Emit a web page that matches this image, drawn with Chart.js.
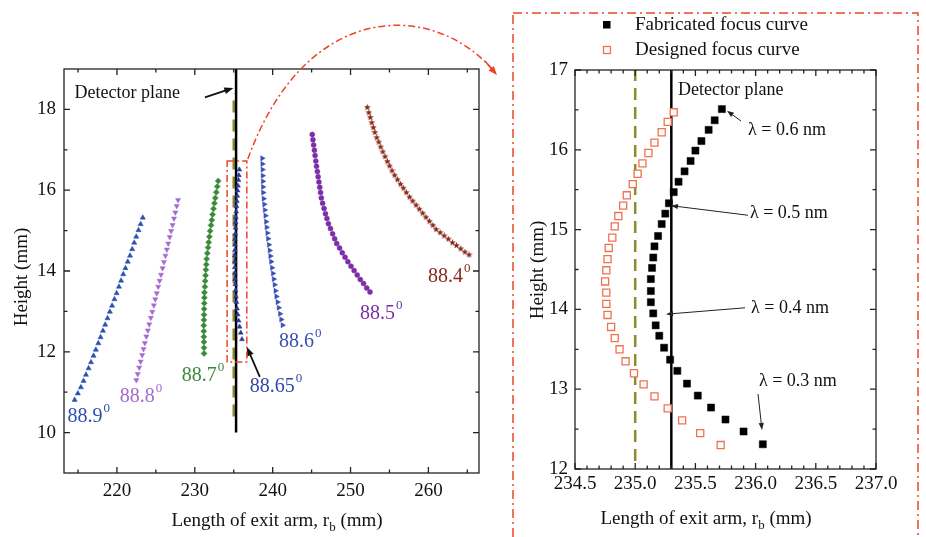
<!DOCTYPE html>
<html>
<head>
<meta charset="utf-8">
<script src="https://cdn.jsdelivr.net/npm/chart.js@4.4.1/dist/chart.umd.min.js"></script>
<style>
  body { margin: 0; background: #fff; width: 926px; height: 537px; overflow: hidden; position: relative; }
  #left { position: absolute; left: 0; top: 0; }
  #right { position: absolute; left: 490px; top: 0; }
</style>
</head>
<body>
<canvas id="left" width="926" height="537"></canvas>
<canvas id="right" width="436" height="537"></canvas>
<script>
// ---- tick values ----
const leftXTicks = [220, 230, 240, 250, 260];
const leftXMinor = [215, 225, 235, 245, 255, 265];
const leftYTicks = [10, 12, 14, 16, 18];
const leftYMinor = [11, 13, 15, 17];
const rightXTicks = [234.5, 235.0, 235.5, 236.0, 236.5, 237.0];
const rightXMinor = [234.6, 234.7, 234.8, 234.9, 235.1, 235.2, 235.3, 235.4, 235.6, 235.7, 235.8, 235.9,
                     236.1, 236.2, 236.3, 236.4, 236.6, 236.7, 236.8, 236.9];
const rightYTicks = [12, 13, 14, 15, 16, 17];
const rightYMinor = [12.5, 13.5, 14.5, 15.5, 16.5];

// ---- focus curves for each incidence angle (left panel) ----
const a889X = [214.57, 214.98, 215.37, 215.71, 216.02, 216.36, 216.67, 216.99, 217.29, 217.61, 217.90, 218.20, 218.49, 218.79, 219.09,
               219.38, 219.68, 219.96, 220.26, 220.53, 220.81, 221.09, 221.39, 221.68, 221.96, 222.22, 222.48, 222.77, 223.04, 223.32];
const a889Y = [10.81, 10.97, 11.12, 11.28, 11.43, 11.59, 11.74, 11.90, 12.05, 12.21, 12.36, 12.52, 12.67, 12.83, 12.99,
               13.14, 13.30, 13.45, 13.61, 13.76, 13.92, 14.07, 14.23, 14.38, 14.54, 14.70, 14.85, 15.01, 15.16, 15.32];

const a888X = [222.49, 222.67, 222.86, 223.04, 223.24, 223.41, 223.58, 223.78, 223.97, 224.15, 224.35, 224.54, 224.74, 224.92, 225.11,
               225.30, 225.48, 225.66, 225.86, 226.04, 226.23, 226.41, 226.59, 226.78, 226.96, 227.14, 227.33, 227.50, 227.68, 227.85];
const a888Y = [11.30, 11.45, 11.61, 11.76, 11.92, 12.07, 12.22, 12.38, 12.53, 12.68, 12.84, 12.99, 13.15, 13.30, 13.45,
               13.61, 13.76, 13.91, 14.07, 14.22, 14.38, 14.53, 14.68, 14.84, 14.99, 15.14, 15.30, 15.45, 15.61, 15.76];

const a887X = [231.19, 231.18, 231.17, 231.16, 231.15, 231.15, 231.17, 231.18, 231.20, 231.21, 231.23, 231.24, 231.29, 231.33, 231.38, 231.42,
               231.47, 231.52, 231.61, 231.70, 231.78, 231.87, 231.97, 232.08, 232.18, 232.29, 232.40, 232.52, 232.63, 232.76, 232.88, 233.00];
const a887Y = [11.96, 12.10, 12.24, 12.37, 12.51, 12.65, 12.79, 12.92, 13.06, 13.20, 13.34, 13.47, 13.61, 13.75, 13.89, 14.03,
               14.16, 14.30, 14.44, 14.58, 14.71, 14.85, 14.99, 15.13, 15.26, 15.40, 15.54, 15.68, 15.81, 15.95, 16.09, 16.23];

const a886X = [241.27, 241.10, 240.94, 240.77, 240.63, 240.48, 240.36, 240.25, 240.14, 240.03, 239.92, 239.80, 239.70, 239.61, 239.51,
               239.41, 239.32, 239.22, 239.15, 239.07, 238.99, 238.92, 238.84, 238.78, 238.76, 238.74, 238.72, 238.70, 238.68, 238.66];
const a886Y = [12.66, 12.80, 12.94, 13.09, 13.23, 13.37, 13.51, 13.66, 13.80, 13.94, 14.08, 14.23, 14.37, 14.51, 14.65,
               14.80, 14.94, 15.08, 15.22, 15.37, 15.51, 15.65, 15.79, 15.94, 16.08, 16.22, 16.36, 16.51, 16.65, 16.79];

const a885X = [245.08, 245.17, 245.26, 245.36, 245.45, 245.54, 245.63, 245.74, 245.84, 245.94, 246.05, 246.15, 246.25, 246.41, 246.60, 246.78, 246.97,
               247.16, 247.43, 247.70, 247.96, 248.23, 248.59, 248.94, 249.30, 249.66, 250.06, 250.46, 250.86, 251.25, 251.67, 252.08, 252.50];
const a885Y = [17.38, 17.25, 17.12, 16.99, 16.86, 16.72, 16.59, 16.46, 16.33, 16.20, 16.07, 15.94, 15.81, 15.68, 15.55, 15.42, 15.30,
               15.17, 15.05, 14.92, 14.80, 14.68, 14.57, 14.45, 14.34, 14.23, 14.12, 14.01, 13.90, 13.79, 13.69, 13.58, 13.48];

const a884X = [252.15, 252.35, 252.54, 252.73, 252.93, 253.12, 253.36, 253.62, 253.88, 254.14, 254.43, 254.73, 255.02, 255.33, 255.67, 256.04, 256.41, 256.78,
               257.17, 257.58, 257.99, 258.42, 258.84, 259.27, 259.69, 260.13, 260.57, 260.99, 261.51, 262.03, 262.56, 263.09, 263.61, 264.15, 264.69, 265.23];
const a884Y = [18.05, 17.92, 17.80, 17.67, 17.55, 17.43, 17.30, 17.19, 17.07, 16.95, 16.83, 16.71, 16.60, 16.48, 16.37, 16.26, 16.15, 16.05,
               15.94, 15.83, 15.73, 15.63, 15.53, 15.43, 15.33, 15.23, 15.13, 15.03, 14.95, 14.87, 14.79, 14.70, 14.63, 14.55, 14.47, 14.40];

// ---- zoomed panel: 88.65 deg focus curves ----
const fabX = [235.72, 235.66, 235.61, 235.55, 235.50, 235.46, 235.41, 235.36, 235.32, 235.28, 235.25, 235.22, 235.19, 235.16, 235.15, 235.14,
              235.13, 235.13, 235.13, 235.15, 235.17, 235.20, 235.24, 235.29, 235.35, 235.43, 235.52, 235.63, 235.75, 235.90, 236.06];
const fabY = [16.51, 16.37, 16.25, 16.11, 15.99, 15.86, 15.73, 15.60, 15.47, 15.33, 15.20, 15.07, 14.92, 14.79, 14.65, 14.52,
              14.38, 14.23, 14.09, 13.95, 13.80, 13.67, 13.52, 13.37, 13.23, 13.07, 12.92, 12.77, 12.62, 12.47, 12.31];
const desX = [235.32, 235.27, 235.22, 235.16, 235.11, 235.06, 235.02, 234.98, 234.93, 234.90, 234.86, 234.83, 234.81, 234.78, 234.77, 234.76,
              234.75, 234.76, 234.76, 234.77, 234.80, 234.83, 234.87, 234.92, 234.99, 235.07, 235.16, 235.27, 235.39, 235.54, 235.71];
const desY = [16.47, 16.35, 16.22, 16.09, 15.96, 15.83, 15.70, 15.57, 15.43, 15.30, 15.17, 15.04, 14.90, 14.77, 14.63, 14.49,
              14.35, 14.21, 14.07, 13.93, 13.78, 13.64, 13.50, 13.35, 13.20, 13.06, 12.91, 12.76, 12.61, 12.45, 12.30];
const a8865X = fabX;
const a8865Y = fabY;

// detector plane (solid) and designed plane (dashed)
const detectorX = 235.3;
const designPlaneX = 235.0;
const leftDetectorY = [10, 19];
const leftDesignY = [10.4, 18.4];
const rightDetectorY = [12, 17];
const rightDesignY = [12.1, 17];

const angleNames = ['88.9', '88.8', '88.7', '88.65', '88.6', '88.5', '88.4'];
const waveNames = ['\u03bb = 0.6 nm', '\u03bb = 0.5 nm', '\u03bb = 0.4 nm', '\u03bb = 0.3 nm'];
const legendNames = ['Fabricated focus curve', 'Designed focus curve'];

// ---- styling ----
const SERIF = "'Liberation Serif', 'Times New Roman', serif";
const C889 = '#2a4fb0', C888 = '#a46ad0', C887 = '#3a8a3a', C8865 = '#26389a', C886 = '#3a50b4', C885 = '#7a2ea8', C884 = '#8a2a1c';
const RED = '#ee4426';
const OLIVE = '#8e8a2e';

function pts(xs, ys) { return xs.map((x, i) => ({ x: x, y: ys[i] })); }
function vline(x, ys) { return [{ x: x, y: ys[0] }, { x: x, y: ys[1] }]; }

function starImage(color, size) {
  const c = document.createElement('canvas');
  c.width = size; c.height = size;
  const g = c.getContext('2d');
  const r = size / 2, ri = r * 0.45;
  g.beginPath();
  for (let i = 0; i < 10; i++) {
    const rr = i % 2 ? ri : r;
    const a = -Math.PI / 2 + i * Math.PI / 5;
    g.lineTo(r + rr * Math.cos(a), r + rr * Math.sin(a));
  }
  g.closePath();
  g.fillStyle = color;
  g.fill();
  return c;
}

function arrow(ctx, x1, y1, x2, y2, color, width, L, W) {
  const ang = Math.atan2(y2 - y1, x2 - x1);
  const c = Math.cos(ang), s = Math.sin(ang);
  ctx.save();
  ctx.setLineDash([]);
  ctx.strokeStyle = color; ctx.fillStyle = color; ctx.lineWidth = width;
  ctx.beginPath();
  ctx.moveTo(x1, y1);
  ctx.lineTo(x2 - L * 0.7 * c, y2 - L * 0.7 * s);
  ctx.stroke();
  ctx.beginPath();
  ctx.moveTo(x2, y2);
  ctx.lineTo(x2 - L * c + W * s, y2 - L * s - W * c);
  ctx.lineTo(x2 - L * c - W * s, y2 - L * s + W * c);
  ctx.closePath();
  ctx.fill();
  ctx.restore();
}

function drawFrame(chart, xMajor, xMinor, yMajor, yMinor) {
  const { ctx, chartArea: a } = chart;
  const x = chart.scales.x, y = chart.scales.y;
  ctx.save();
  ctx.strokeStyle = '#222';
  ctx.lineWidth = 1.3;
  ctx.strokeRect(a.left, a.top, a.right - a.left, a.bottom - a.top);
  ctx.beginPath();
  const tx = (vals, len) => vals.forEach(v => {
    const p = x.getPixelForValue(v);
    ctx.moveTo(p, a.bottom); ctx.lineTo(p, a.bottom - len);
    ctx.moveTo(p, a.top); ctx.lineTo(p, a.top + len);
  });
  const ty = (vals, len) => vals.forEach(v => {
    const p = y.getPixelForValue(v);
    ctx.moveTo(a.left, p); ctx.lineTo(a.left + len, p);
    ctx.moveTo(a.right, p); ctx.lineTo(a.right - len, p);
  });
  tx(xMajor, 6); tx(xMinor, 3.5); ty(yMajor, 6); ty(yMinor, 3.5);
  ctx.stroke();
  ctx.restore();
}

function xTitle(ctx, cx, base) {
  const a = 'Length of exit arm, r', b = 'b', c = ' (mm)';
  ctx.save();
  ctx.fillStyle = '#111';
  ctx.textAlign = 'left';
  ctx.textBaseline = 'alphabetic';
  ctx.font = '19px ' + SERIF;
  const wa = ctx.measureText(a).width, wc = ctx.measureText(c).width;
  ctx.font = '13px ' + SERIF;
  const wb = ctx.measureText(b).width;
  let x0 = cx - (wa + wb + wc) / 2;
  ctx.font = '19px ' + SERIF;
  ctx.fillText(a, x0, base);
  ctx.font = '13px ' + SERIF;
  ctx.fillText(b, x0 + wa, base + 5);
  ctx.font = '19px ' + SERIF;
  ctx.fillText(c, x0 + wa + wb, base);
  ctx.restore();
}

function yTitle(ctx, cx, cy) {
  ctx.save();
  ctx.translate(cx, cy);
  ctx.rotate(-Math.PI / 2);
  ctx.fillStyle = '#111';
  ctx.font = '19px ' + SERIF;
  ctx.textAlign = 'center';
  ctx.textBaseline = 'middle';
  ctx.fillText('Height (mm)', 0, 0);
  ctx.restore();
}

function angleLabel(ctx, text, x, cy, color) {
  ctx.save();
  ctx.fillStyle = color;
  ctx.textAlign = 'left';
  ctx.textBaseline = 'alphabetic';
  ctx.font = '20px ' + SERIF;
  ctx.fillText(text, x, cy + 7);
  const w = ctx.measureText(text).width;
  ctx.font = '13px ' + SERIF;
  ctx.fillText('0', x + w + 1, cy - 3);
  ctx.restore();
}

// ---- left panel decorations ----
const leftDeco = {
  id: 'leftDeco',
  afterDatasetsDraw(chart) {
    const ctx = chart.ctx;
    const X = v => chart.scales.x.getPixelForValue(v);
    const Y = v => chart.scales.y.getPixelForValue(v);
    drawFrame(chart, leftXTicks, leftXMinor, leftYTicks, leftYMinor);
    xTitle(ctx, 277, 526);
    yTitle(ctx, 22, 277);

    ctx.save();
    ctx.fillStyle = '#111';
    ctx.font = '18px ' + SERIF;
    ctx.textBaseline = 'middle';
    ctx.fillText('Detector plane', X(214.56), Y(18.40));
    ctx.restore();
    arrow(ctx, X(231.3), Y(18.30), X(234.95), Y(18.53), '#111', 1.8, 9, 3.5);

    angleLabel(ctx, angleNames[0], X(213.66), Y(10.44), C889);
    angleLabel(ctx, angleNames[1], X(220.35), Y(10.93), C888);
    angleLabel(ctx, angleNames[2], X(228.32), Y(11.45), C887);
    angleLabel(ctx, angleNames[3], X(237.07), Y(11.18), '#3347aa');
    angleLabel(ctx, angleNames[4], X(240.80), Y(12.29), C886);
    angleLabel(ctx, angleNames[5], X(251.22), Y(12.99), C885);
    angleLabel(ctx, angleNames[6], X(259.96), Y(13.90), C884);
    arrow(ctx, X(238.35), Y(11.38), X(236.68), Y(12.12), '#111', 1.8, 9, 3.5);

    // zoom window
    const bx0 = X(234.15), bx1 = X(236.68), by0 = Y(16.72), by1 = Y(11.75);
    ctx.save();
    ctx.strokeStyle = RED;
    ctx.lineWidth = 1.5;
    ctx.setLineDash([7, 3, 2, 3]);
    ctx.strokeRect(bx0, by0, bx1 - bx0, by1 - by0);
    // curved pointer to the zoomed panel
    const ex = 497, ey = 75;
    ctx.beginPath();
    ctx.moveTo(bx1 + 1, by0 - 2);
    ctx.bezierCurveTo(305, 0, 432, 0, ex - 4, ey - 5);
    ctx.stroke();
    // big frame around the right panel
    ctx.setLineDash([9, 4, 2, 4]);
    ctx.strokeRect(513, 13, 918 - 513, 560);
    ctx.restore();
    arrow(ctx, ex - 12, ey - 14, ex, ey, RED, 1.5, 9, 3.5);
  }
};

// ---- right panel decorations ----
const rightDeco = {
  id: 'rightDeco',
  afterDatasetsDraw(chart) {
    const ctx = chart.ctx;
    const X = v => chart.scales.x.getPixelForValue(v);
    const Y = v => chart.scales.y.getPixelForValue(v);
    drawFrame(chart, rightXTicks, rightXMinor, rightYTicks, rightYMinor);
    xTitle(ctx, 216, 524);
    yTitle(ctx, 48, 270);

    // legend
    ctx.save();
    ctx.fillStyle = '#000';
    ctx.fillRect(113, 21, 7.5, 7.5);
    ctx.strokeStyle = '#ee7350';
    ctx.lineWidth = 1.3;
    ctx.strokeRect(113.5, 46.5, 7, 7);
    ctx.fillStyle = '#111';
    ctx.font = '19px ' + SERIF;
    ctx.textBaseline = 'middle';
    ctx.fillText(legendNames[0], 145, 25);
    ctx.fillText(legendNames[1], 145, 50);

    ctx.font = '18px ' + SERIF;
    ctx.fillText('Detector plane', X(235.355), Y(16.75));
    ctx.fillText(waveNames[0], X(235.937), Y(16.24));
    ctx.fillText(waveNames[1], X(235.953), Y(15.21));
    ctx.fillText(waveNames[2], X(235.962), Y(14.02));
    ctx.fillText(waveNames[3], X(236.028), Y(13.10));
    ctx.restore();

    arrow(ctx, X(235.879), Y(16.36), X(235.762), Y(16.49), '#222', 1, 7, 2.6);
    arrow(ctx, X(235.937), Y(15.18), X(235.297), Y(15.30), '#222', 1, 7, 2.6);
    arrow(ctx, X(235.912), Y(14.02), X(235.256), Y(13.94), '#222', 1, 7, 2.6);
    arrow(ctx, X(236.02), Y(12.94), X(236.053), Y(12.49), '#222', 1, 7, 2.6);
  }
};

function tickFont() { return { family: SERIF, size: 19 }; }

const commonOpts = {
  animation: false,
  responsive: false,
  events: [],
  plugins: { legend: { display: false }, tooltip: { enabled: false } }
};

function scatterSet(xs, ys, color, style, radius, rotation) {
  return {
    data: pts(xs, ys),
    showLine: false,
    pointStyle: style,
    pointRadius: radius,
    pointRotation: rotation || 0,
    backgroundColor: color,
    borderColor: color,
    borderWidth: 0.5
  };
}

function lineSet(data, color, dash) {
  return {
    data: data,
    showLine: true,
    pointRadius: 0,
    borderColor: color,
    borderWidth: 2.5,
    borderDash: dash,
    fill: false
  };
}

new Chart(document.getElementById('left'), {
  type: 'scatter',
  data: {
    datasets: [
      scatterSet(a889X, a889Y, C889, 'triangle', 3),
      scatterSet(a888X, a888Y, C888, 'triangle', 3, 180),
      scatterSet(a887X, a887Y, C887, 'rectRot', 3),
      scatterSet(a8865X, a8865Y, C8865, 'triangle', 2.8),
      scatterSet(a886X, a886Y, C886, 'triangle', 3, 90),
      scatterSet(a885X, a885Y, C885, 'circle', 2.5),
      scatterSet(a884X, a884Y, C884, starImage(C884, 7), 3.5),
      lineSet(vline(detectorX, leftDetectorY), '#000', []),
      lineSet(vline(designPlaneX, leftDesignY), OLIVE, [12, 7])
    ]
  },
  options: Object.assign({}, commonOpts, {
    layout: { padding: { left: 0, top: 69, right: 447, bottom: 0 } },
    scales: {
      x: {
        type: 'linear', min: 213.2, max: 266.5,
        afterBuildTicks: s => { s.ticks = leftXTicks.map(v => ({ value: v })); },
        afterFit: s => { s.height = 64; },
        grid: { display: false, drawTicks: false },
        border: { display: false },
        ticks: { padding: 7, color: '#111', font: tickFont() }
      },
      y: {
        type: 'linear', min: 9, max: 19,
        afterBuildTicks: s => { s.ticks = leftYTicks.map(v => ({ value: v })); },
        afterFit: s => { s.width = 64; },
        grid: { display: false, drawTicks: false },
        border: { display: false },
        ticks: { padding: 8, color: '#111', font: tickFont() }
      }
    }
  }),
  plugins: [leftDeco]
});

new Chart(document.getElementById('right'), {
  type: 'scatter',
  data: {
    datasets: [
      {
        data: pts(fabX, fabY), showLine: false, pointStyle: 'rect', pointRadius: 5,
        backgroundColor: '#000', borderColor: '#000', borderWidth: 0.5
      },
      {
        data: pts(desX, desY), showLine: false, pointStyle: 'rect', pointRadius: 5,
        backgroundColor: '#fff', borderColor: '#ee7350', borderWidth: 1.3
      },
      lineSet(vline(detectorX, rightDetectorY), '#000', []),
      lineSet(vline(designPlaneX, rightDesignY), OLIVE, [12, 7])
    ]
  },
  options: Object.assign({}, commonOpts, {
    layout: { padding: { left: 0, top: 70, right: 50, bottom: 0 } },
    scales: {
      x: {
        type: 'linear', min: 234.5, max: 237.0,
        afterBuildTicks: s => { s.ticks = rightXTicks.map(v => ({ value: v })); },
        afterFit: s => { s.height = 68; },
        grid: { display: false, drawTicks: false },
        border: { display: false },
        ticks: { padding: 4, color: '#111', font: tickFont(), callback: v => Number(v).toFixed(1) }
      },
      y: {
        type: 'linear', min: 12, max: 17,
        afterBuildTicks: s => { s.ticks = rightYTicks.map(v => ({ value: v })); },
        afterFit: s => { s.width = 85; },
        grid: { display: false, drawTicks: false },
        border: { display: false },
        ticks: { padding: 7, color: '#111', font: tickFont() }
      }
    }
  }),
  plugins: [rightDeco]
});
</script>
</body>
</html>
